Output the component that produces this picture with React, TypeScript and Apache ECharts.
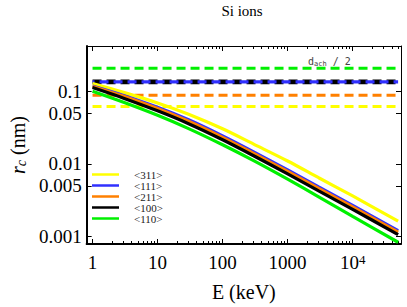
import React, { useEffect, useRef } from 'react';
import * as echarts from 'echarts';

// ---- data ----
const energyKeV = [1, 3, 10, 30, 100, 300, 1000, 3000, 10000, 50000];
const rc311 = [0.1287, 0.0975, 0.0696, 0.0486, 0.0306, 0.0188, 0.011, 0.00646, 0.00362, 0.00162];
const rc111 = [0.119, 0.0883, 0.0607, 0.0407, 0.0244, 0.0147, 0.00826, 0.00481, 0.00267, 0.0012];
const rc211 = [0.1174, 0.0859, 0.0583, 0.0389, 0.0233, 0.014, 0.00789, 0.0046, 0.00255, 0.00114];
const rc100 = [0.1134, 0.081, 0.0542, 0.036, 0.0216, 0.013, 0.00731, 0.00426, 0.00236, 0.00106];
const rc110 = [0.101, 0.0711, 0.047, 0.0308, 0.0184, 0.0111, 0.00616, 0.00352, 0.00189, 0.00083];
const channelNames = ['<311>', '<111>', '<211>', '<100>', '<110>'];
const halfChannelWidth = [0.062, 0.136, 0.089, 0.136, 0.21];
const dashedSpanE = [1, 50000];
const xMajorTicks = [1, 10, 100, 1000, 10000];
const xMinorTicks = [
  2, 3, 4, 5, 6, 7, 8, 9,
  20, 30, 40, 50, 60, 70, 80, 90,
  200, 300, 400, 500, 600, 700, 800, 900,
  2000, 3000, 4000, 5000, 6000, 7000, 8000, 9000,
  20000, 30000, 40000, 50000,
];
const yMajorTicks = [0.001, 0.005, 0.01, 0.05, 0.1];

const curves = [rc311, rc111, rc211, rc100, rc110];
const colors = ['#ffff00', '#3030ff', '#ff8000', '#000000', '#00f000'];

const X_MIN = 0.812;
const X_MAX = 55400;
const Y_MIN = 0.000785;
const Y_MAX = 0.4257;
const SERIF = 'Liberation Serif';

export default function App() {
  const ref = useRef<HTMLDivElement>(null);
  useEffect(() => {
    if (!ref.current) return;
    const chart = echarts.init(ref.current, null, { renderer: 'svg' });

    const xBase = (position: string) => ({
      type: 'log',
      logBase: 10,
      min: X_MIN,
      max: X_MAX,
      position,
      splitLine: { show: false },
      minorTick: { show: false },
      axisLine: { show: false, onZero: false },
      axisLabel: { show: false },
    });
    const yBase = (position: string) => ({
      type: 'log',
      logBase: 10,
      min: Y_MIN,
      max: Y_MAX,
      position,
      splitLine: { show: false },
      minorTick: { show: false },
      axisLine: { show: false, onZero: false },
      axisLabel: { show: false },
    });

    const solidSeries = channelNames.map((name, i) => ({
      name,
      type: 'line',
      xAxisIndex: 0,
      yAxisIndex: 0,
      data: energyKeV.map((e, j) => [e, curves[i][j]]),
      smooth: 0.3,
      showSymbol: false,
      symbol: 'none',
      color: colors[i],
      itemStyle: { color: colors[i] },
      lineStyle: { color: colors[i], width: 3.2 },
      z: 4,
    }));

    const dashWidths = [3, 3.2, 3, 4.6, 3];
    const dashOrder = [4, 3, 1, 2, 0];
    const dashedSeries = dashOrder.map((i) => ({
      name: 'dach-' + channelNames[i],
      type: 'line',
      xAxisIndex: 0,
      yAxisIndex: 0,
      data: dashedSpanE.map((e) => [e, halfChannelWidth[i]]),
      showSymbol: false,
      symbol: 'none',
      color: colors[i],
      lineStyle: {
        color: colors[i],
        width: dashWidths[i],
        type: [9, 5],
        dashOffset: i === 1 ? 7 : 0,
      },
      z: 3,
    }));

    chart.setOption({
      animation: false,
      backgroundColor: '#ffffff',
      grid: { left: 81, top: 46, width: 320, height: 200, containLabel: false },
      graphic: [
        {
          type: 'text',
          x: 242,
          y: 11,
          style: {
            text: 'Si ions',
            fill: '#000',
            font: `15px "${SERIF}"`,
            align: 'center',
            verticalAlign: 'middle',
            textAlign: 'center',
            textVerticalAlign: 'middle',
          },
        },
        {
          type: 'text',
          x: 308,
          y: 61,
          style: {
            text: 'd{s|ach} / 2',
            fill: '#444',
            font: '10px "DejaVu Sans Mono"',
            verticalAlign: 'middle',
            textVerticalAlign: 'middle',
            rich: {
              s: { fontSize: 7, fontFamily: 'DejaVu Sans Mono', fill: '#444', verticalAlign: 'bottom', padding: [5, 0, 0, 0] },
            },
          },
        },
      ],
      legend: {
        orient: 'vertical',
        left: 92,
        top: 169,
        padding: 0,
        itemWidth: 27,
        itemHeight: 2.5,
        itemGap: 0,
        icon: 'rect',
        selectedMode: false,
        data: channelNames,
        textStyle: {
          fontFamily: SERIF,
          fontSize: 11,
          lineHeight: 11,
          color: '#222',
          padding: [0, 0, 0, 10],
        },
      },
      xAxis: [
        {
          ...xBase('bottom'),
          name: 'E (keV)',
          nameLocation: 'middle',
          nameGap: 38,
          nameTextStyle: { fontFamily: SERIF, fontSize: 20, color: '#000' },
          axisLine: { show: true, onZero: false, lineStyle: { color: '#000', width: 2 } },
          axisTick: { show: true, inside: true, length: 5, customValues: xMajorTicks, lineStyle: { color: '#000', width: 1 } },
          axisLabel: {
            show: true,
            customValues: xMajorTicks,
            margin: 9,
            color: '#000',
            fontFamily: SERIF,
            fontSize: 19,
            formatter: (v: number) => {
              const r = Math.round(v);
              return r === 10000 ? '{n|10}{p|4}' : '{n|' + r + '}';
            },
            rich: {
              n: { fontFamily: SERIF, fontSize: 19, color: '#000' },
              p: { fontFamily: SERIF, fontSize: 13, color: '#000', verticalAlign: 'top' },
            },
          },
        },
        {
          ...xBase('bottom'),
          axisTick: { show: true, inside: true, length: 3, customValues: xMinorTicks, lineStyle: { color: '#000', width: 1 } },
        },
        {
          ...xBase('top'),
          axisLine: { show: true, onZero: false, lineStyle: { color: '#000', width: 1 } },
          axisTick: { show: true, inside: true, length: 5, customValues: xMajorTicks, lineStyle: { color: '#000', width: 1 } },
        },
        {
          ...xBase('top'),
          axisTick: { show: true, inside: true, length: 3, customValues: xMinorTicks, lineStyle: { color: '#000', width: 1 } },
        },
      ],
      yAxis: [
        {
          ...yBase('left'),
          name: '{r|r}{c|c}{n| (nm)}',
          nameLocation: 'middle',
          nameGap: 55,
          nameRotate: 90,
          nameTextStyle: {
            color: '#000',
            rich: {
              r: { fontFamily: SERIF, fontSize: 20, fontStyle: 'italic', color: '#000' },
              c: { fontFamily: SERIF, fontSize: 14, fontStyle: 'italic', color: '#000', verticalAlign: 'bottom' },
              n: { fontFamily: SERIF, fontSize: 20, color: '#000' },
            },
          },
          axisLine: { show: true, onZero: false, lineStyle: { color: '#000', width: 2 } },
          axisTick: { show: true, inside: true, length: 5, customValues: yMajorTicks, lineStyle: { color: '#000', width: 1 } },
          axisLabel: {
            show: true,
            customValues: yMajorTicks,
            margin: 5,
            color: '#000',
            fontFamily: SERIF,
            fontSize: 19,
            formatter: (v: number) => String(Number(v.toPrecision(3))),
          },
        },
        {
          ...yBase('right'),
          axisLine: { show: true, onZero: false, lineStyle: { color: '#000', width: 1 } },
          axisTick: { show: true, inside: true, length: 5, customValues: yMajorTicks, lineStyle: { color: '#000', width: 1 } },
        },
      ],
      series: [...dashedSeries, ...solidSeries],
    });

    return () => chart.dispose();
  }, []);

  return (
    <div
      ref={ref}
      style={{ position: 'fixed', left: 0, top: 0, width: 407, height: 307, background: '#fff' }}
    />
  );
}
